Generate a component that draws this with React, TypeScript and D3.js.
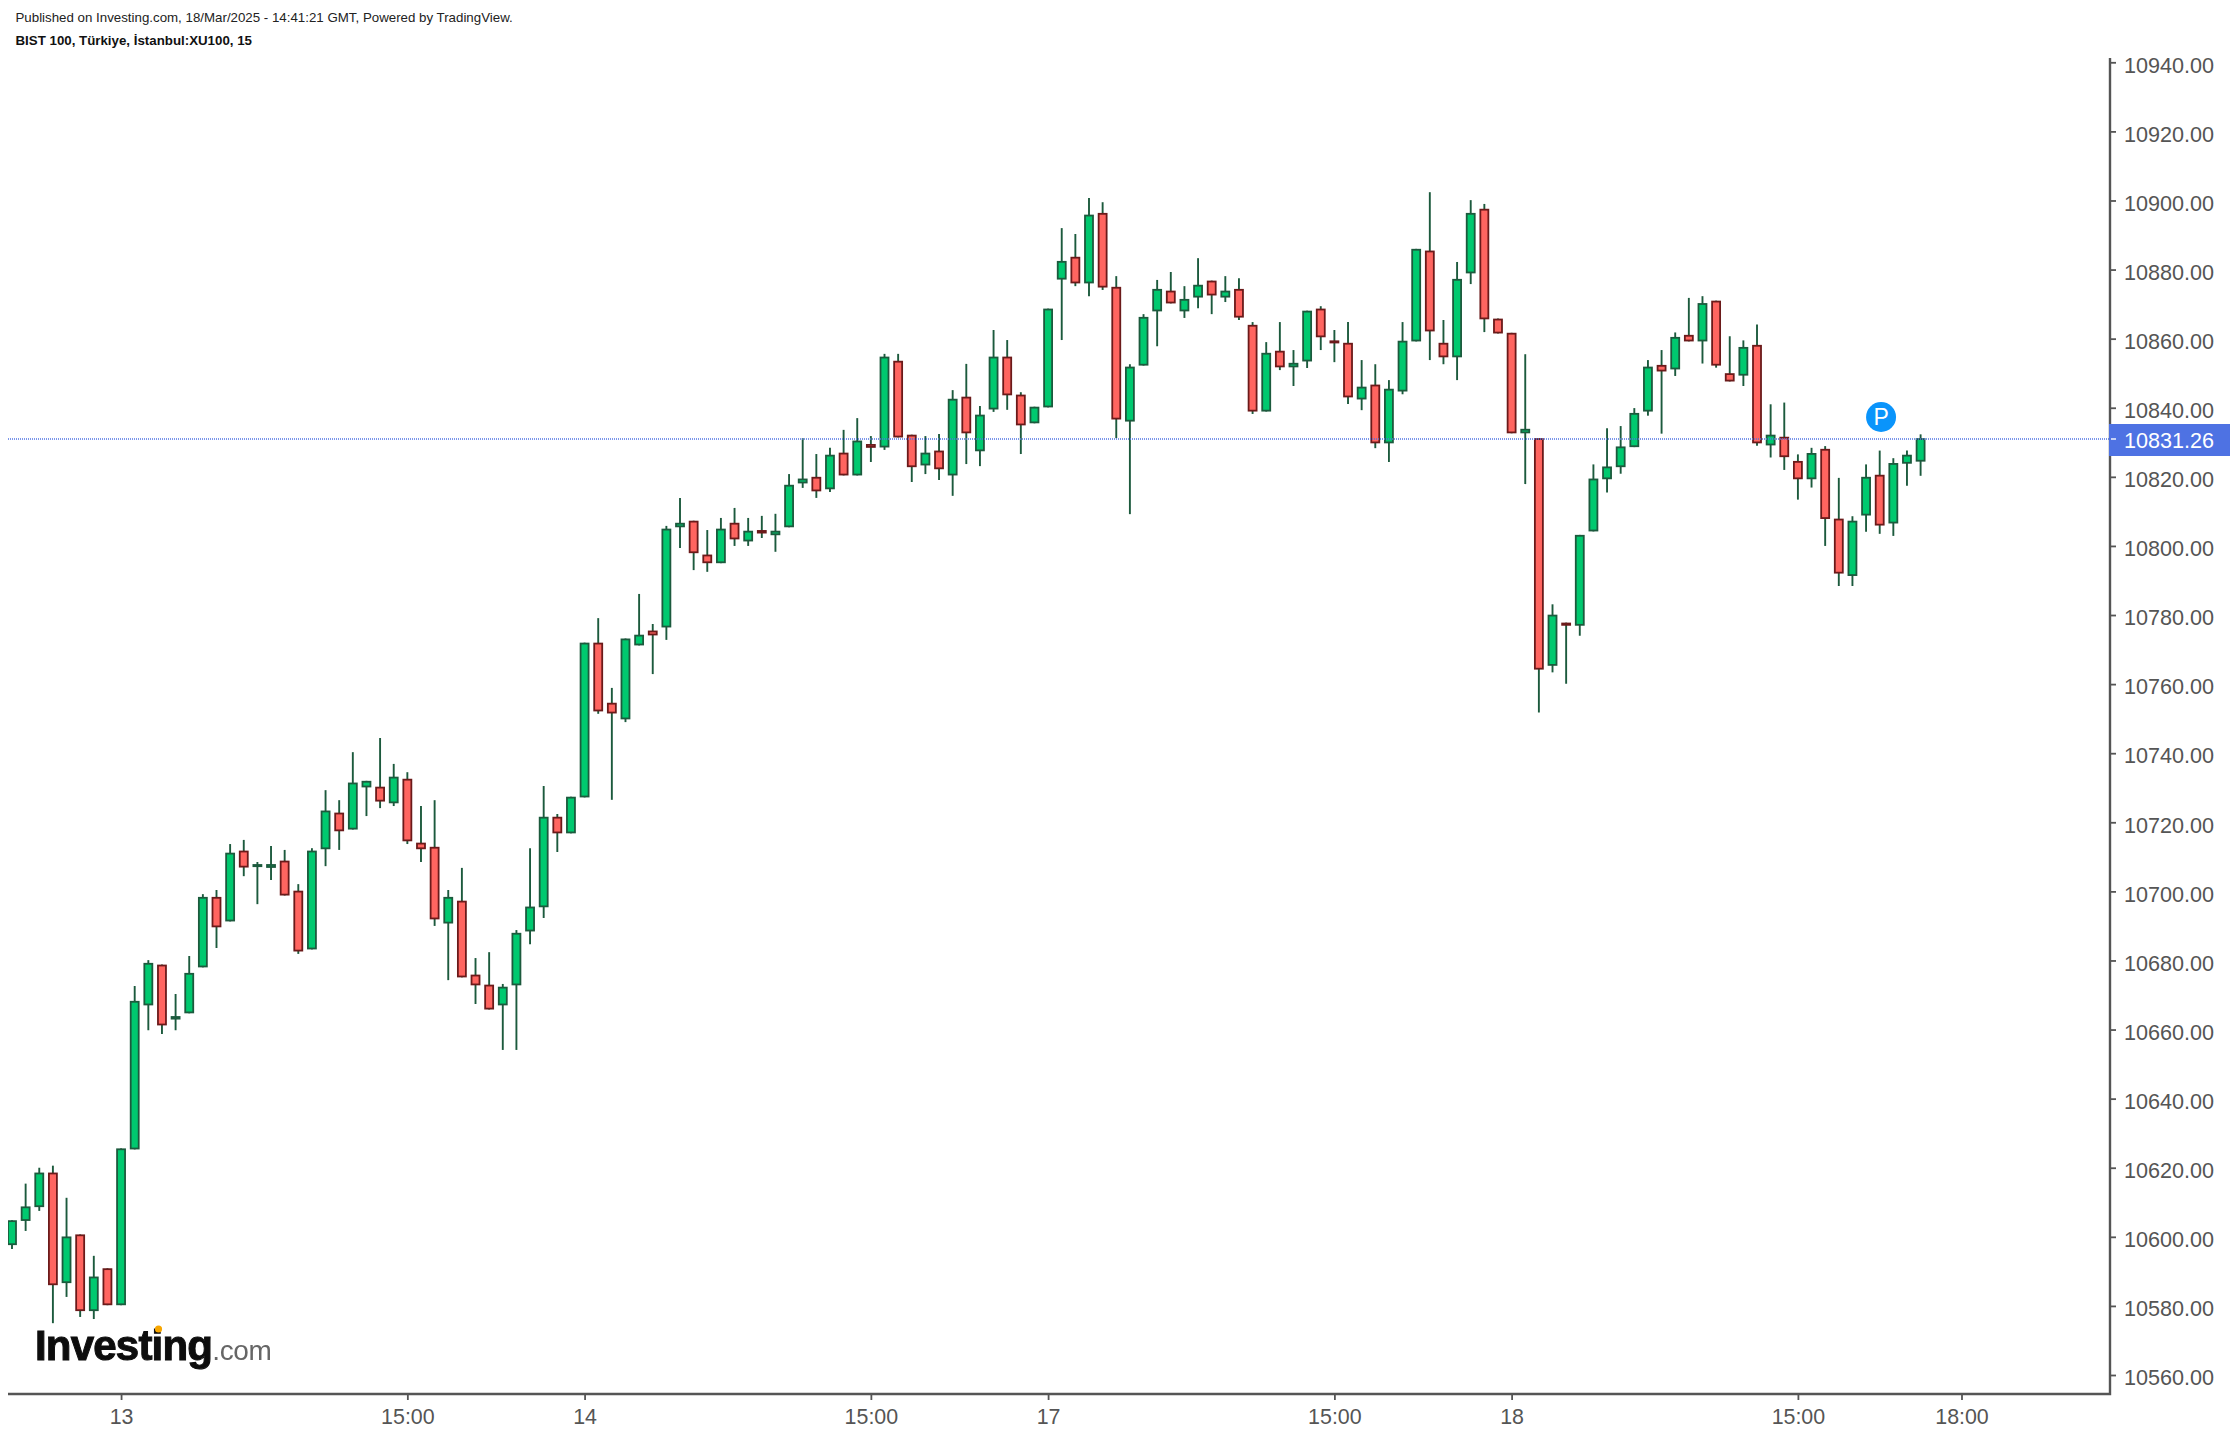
import * as d3 from "d3";
import { useEffect, useRef } from "react";

const opens = [
  10597.6, 10604.6, 10608.6, 10618.6, 10586.6, 10600.7, 10578.5, 10590.9, 10580.2, 10625.3,
  10667, 10678.8, 10662.9, 10664.7, 10678, 10698.4, 10691.3, 10711.8, 10707.5, 10706.8,
  10708.9, 10700.2, 10683.2, 10712.2, 10722.8, 10717.9, 10730.1, 10730.3, 10725.5, 10732.6,
  10714.1, 10712.9, 10690.7, 10697.3, 10675.9, 10673, 10667, 10672.8, 10688.4, 10695.4,
  10721.6, 10716.8, 10727.2, 10772, 10754.6, 10749.8, 10771.2, 10775.5, 10776.4, 10805.4,
  10807.3, 10797.5, 10795, 10806.7, 10801.3, 10804.6, 10803.1, 10805.4, 10818.1, 10820,
  10816.4, 10827, 10820.4, 10829.5, 10828.5, 10853.6, 10832.2, 10823.3, 10827.6, 10820.4,
  10843.2, 10827.4, 10839.5, 10854.8, 10843.8, 10835.5, 10840.1, 10877.1, 10883.7, 10876,
  10896.4, 10875, 10836, 10852.2, 10867.9, 10873.9, 10867.9, 10871.9, 10876.8, 10871.9,
  10874.4, 10864, 10838.9, 10856.5, 10851.7, 10853.4, 10868.7, 10859.5, 10858.8, 10842.4,
  10846.7, 10829.7, 10844.7, 10859.2, 10885.5, 10858.8, 10854.6, 10878.9, 10897.6, 10865.8,
  10861.7, 10832.6, 10831.2, 10765.3, 10777.8, 10776.9, 10804.2, 10819.3, 10822.8, 10828.6,
  10838.9, 10852.4, 10851.1, 10861.1, 10859.2, 10871, 10850, 10849.3, 10858.2, 10829.1,
  10831.6, 10824.6, 10819.3, 10828.1, 10807.9, 10791.3, 10808.8, 10820.6, 10806.5, 10823.8,
  10824.4,
];
const highs = [
  10604.8, 10615.4, 10620, 10620.6, 10611.3, 10600.7, 10594.5, 10590.9, 10625.6, 10672.6,
  10680.1, 10678.8, 10670.3, 10681.3, 10699.2, 10700.4, 10713.7, 10714.9, 10708.5, 10713.1,
  10712, 10702.1, 10712.5, 10729.3, 10726.4, 10740.3, 10732, 10744.4, 10736.9, 10734.5,
  10724.7, 10726.4, 10700.4, 10706.8, 10680.7, 10682.4, 10673.2, 10688.8, 10712.5, 10730.5,
  10722.4, 10727.4, 10772, 10779.1, 10758.9, 10773.2, 10786.1, 10777.4, 10805.8, 10813.9,
  10807.3, 10804.6, 10808.1, 10811, 10808.1, 10808.7, 10809.3, 10820.8, 10831.2, 10826.6,
  10828.4, 10833.6, 10837, 10831.8, 10855.6, 10855.6, 10832.2, 10831.8, 10832.4, 10845.1,
  10852.7, 10840.5, 10862.5, 10859.6, 10844.5, 10840.3, 10868.7, 10892, 10890.3, 10900.7,
  10899.5, 10878.1, 10852.6, 10867.1, 10877, 10879.3, 10875.2, 10883.3, 10876.8, 10878.1,
  10877.5, 10864.8, 10859, 10864.8, 10856.7, 10868.1, 10869.4, 10862.5, 10864.8, 10853.8,
  10852.6, 10848, 10864.8, 10886, 10902.4, 10865.4, 10882.2, 10900.1, 10899, 10865.8,
  10861.7, 10855.5, 10831.2, 10783.1, 10777.8, 10803.2, 10823.6, 10834.1, 10834.7, 10839.9,
  10853.8, 10856.7, 10861.8, 10871.8, 10872.3, 10871, 10860.7, 10859.5, 10864.1, 10841,
  10841.5, 10826.5, 10828.4, 10828.9, 10819.7, 10808.6, 10823.6, 10827.6, 10825.4, 10827.6,
  10832.3,
];
const lows = [
  10596.5, 10601.7, 10607.5, 10575, 10582.6, 10576.8, 10576.2, 10580.2, 10580.2, 10625.3,
  10659.8, 10658.7, 10659.8, 10664.7, 10678, 10683.6, 10691.3, 10704.4, 10696.3, 10703.3,
  10698.8, 10681.9, 10683.2, 10707.3, 10712, 10717.9, 10721.8, 10724.1, 10724.7, 10713.7,
  10708.5, 10690, 10674.3, 10675.1, 10667.4, 10665.8, 10654.1, 10654.1, 10684.7, 10692.3,
  10711.4, 10716.8, 10727.2, 10751.4, 10726.5, 10749, 10771.2, 10762.9, 10772.8, 10799.4,
  10793, 10792.5, 10795, 10800, 10800, 10802.3, 10798.3, 10805.4, 10816.8, 10813.9,
  10815.6, 10820.4, 10820.4, 10824.3, 10827.8, 10831.4, 10818.5, 10820.8, 10819.1, 10814.5,
  10823.7, 10823.1, 10838.8, 10839.4, 10826.6, 10835.5, 10840.1, 10859.6, 10875.2, 10872.3,
  10874.1, 10831.2, 10809.2, 10852.2, 10857.8, 10870.2, 10866, 10868.8, 10867.1, 10870.6,
  10865.4, 10838.2, 10838.9, 10850.9, 10846.3, 10851.5, 10856.7, 10853.2, 10841.1, 10839.3,
  10828.3, 10824.3, 10843.9, 10859.2, 10853.8, 10852.6, 10848, 10875.8, 10861.9, 10861.5,
  10832.6, 10817.9, 10751.8, 10763.4, 10760.1, 10774, 10804.2, 10815.5, 10820.9, 10828.6,
  10837.7, 10832.5, 10849.2, 10859.2, 10852.8, 10851.6, 10847.6, 10846.3, 10829, 10825.6,
  10822, 10813.4, 10816.9, 10800, 10788.4, 10788.4, 10804.1, 10803.5, 10802.9, 10817.4,
  10820.3,
];
const closes = [
  10604.8, 10608.8, 10618.6, 10586, 10600.1, 10578.5, 10588.5, 10580.2, 10625.6, 10668.3,
  10679.3, 10661.2, 10663.9, 10676.4, 10698.4, 10689.6, 10711.2, 10706.9, 10707.9, 10707.9,
  10698.8, 10682.6, 10711.8, 10723.4, 10717.4, 10731.5, 10732, 10726, 10733.2, 10714.5,
  10712.2, 10691.9, 10698.4, 10675.1, 10672.8, 10665.8, 10672.4, 10688, 10695.6, 10721.6,
  10716.8, 10727.4, 10772, 10752.1, 10751.5, 10773.2, 10774.3, 10774.1, 10805, 10806.7,
  10797.9, 10795, 10805, 10801.9, 10804.4, 10803.6, 10804.4, 10817.7, 10819.5, 10815.8,
  10826.4, 10820.4, 10830.5, 10828.4, 10854.8, 10831.4, 10822.8, 10827, 10822.2, 10842.6,
  10832.6, 10838, 10854.8, 10843.6, 10834.9, 10840.3, 10868.7, 10882.5, 10876, 10895.9,
  10874.8, 10836.6, 10851.9, 10866.3, 10874.4, 10870.2, 10871.5, 10875.6, 10872.5, 10873.9,
  10866.1, 10838.9, 10855.9, 10851.7, 10853, 10868.1, 10860.4, 10859.1, 10843, 10846.1,
  10829.7, 10845.5, 10859.4, 10886, 10862.1, 10854.6, 10877.3, 10896.4, 10865.6, 10861.5,
  10832.6, 10833.9, 10764.2, 10780.1, 10776.9, 10803.2, 10819.5, 10823, 10828.8, 10838.5,
  10851.9, 10850.5, 10860.5, 10859.2, 10870.3, 10852.2, 10847.6, 10857.6, 10829.7, 10832.2,
  10825.7, 10819.3, 10826.9, 10807.8, 10792, 10807.3, 10820, 10805.9, 10824, 10826.4,
  10831.2,
];

const xTickIndexes = [8, 29, 42, 63, 76, 97, 110, 131, 143];
const xTickLabels = ["13", "15:00", "14", "15:00", "17", "15:00", "18", "15:00", "18:00"];
const yTicks = [
  10560, 10580, 10600, 10620, 10640, 10660, 10680, 10700, 10720, 10740, 10760, 10780, 10800,
  10820, 10840, 10860, 10880, 10900, 10920, 10940,
];
const lastPrice = 10831.26;

const FONT = "'Liberation Sans', Arial, sans-serif";
const AXIS_COLOR = "#555555";

export default function App(): JSX.Element {
  const svgRef = useRef<SVGSVGElement>(null);

  useEffect(() => {
    if (!svgRef.current) return;

    const width = 2230;
    const height = 1436;
    const plot = { left: 8, right: 2110, top: 58, bottom: 1394 };

    const svg = d3.select(svgRef.current);
    svg.selectAll("*").remove();
    svg.attr("width", width).attr("height", height);

    const xScale = d3.scaleLinear().domain([0, 140]).range([12, 1920.6]);
    const yScale = d3.scaleLinear().domain([10560, 10940]).range([1375, 62.3]);

    const defs = svg.append("defs");
    defs
      .append("clipPath")
      .attr("id", "plot-clip")
      .append("rect")
      .attr("x", plot.left)
      .attr("y", plot.top)
      .attr("width", plot.right - plot.left)
      .attr("height", plot.bottom - plot.top);
    defs
      .append("clipPath")
      .attr("id", "axis-clip")
      .append("rect")
      .attr("x", plot.right - 2)
      .attr("y", plot.top)
      .attr("width", width - plot.right + 2)
      .attr("height", plot.bottom - plot.top);
    defs
      .append("filter")
      .attr("id", "logo-blur")
      .append("feGaussianBlur")
      .attr("stdDeviation", 0.5);

    const candles = svg.append("g").attr("clip-path", "url(#plot-clip)");
    const border = 1.8;
    const bodyWidth = 9.8;

    opens.forEach((open, i) => {
      const close = closes[i];
      const up = close >= open;
      const x = xScale(i);
      const top = yScale(Math.max(open, close));
      const bottom = yScale(Math.min(open, close));

      candles
        .append("line")
        .attr("x1", x)
        .attr("x2", x)
        .attr("y1", yScale(highs[i]))
        .attr("y2", yScale(lows[i]))
        .attr("stroke", "#1c5a3d")
        .attr("stroke-width", 1.9);

      candles
        .append("rect")
        .attr("x", x - bodyWidth / 2)
        .attr("y", top)
        .attr("width", bodyWidth)
        .attr("height", Math.max(bottom - top, 3))
        .attr("fill", up ? "#1c5a3d" : "#6b1a1a");

      if (bottom - top > border * 2) {
        candles
          .append("rect")
          .attr("x", x - bodyWidth / 2 + border)
          .attr("y", top + border)
          .attr("width", bodyWidth - border * 2)
          .attr("height", bottom - top - border * 2)
          .attr("fill", up ? "#00c96f" : "#ff6560");
      }
    });

    // last price line, snapped to whole pixels so the dots stay crisp
    const lastY = Math.round(yScale(lastPrice) + 1);
    svg
      .append("line")
      .attr("x1", plot.left)
      .attr("x2", plot.right)
      .attr("y1", lastY)
      .attr("y2", lastY)
      .attr("stroke", "#4f73e3")
      .attr("stroke-width", 2)
      .attr("stroke-dasharray", "1,1")
      .attr("stroke-opacity", 0.75)
      .attr("shape-rendering", "crispEdges");

    const yAxis = svg
      .append("g")
      .attr("clip-path", "url(#axis-clip)")
      .append("g")
      .attr("transform", `translate(${plot.right},0)`)
      .call(
        d3
          .axisRight(yScale)
          .tickValues(yTicks)
          .tickFormat(d3.format(".2f") as any)
          .tickSize(6)
          .tickPadding(8),
      );
    yAxis.select(".domain").remove();
    yAxis.selectAll("line").attr("stroke", AXIS_COLOR).attr("stroke-width", 1.8);
    yAxis
      .selectAll("text")
      .attr("dy", "0.45em")
      .style("font-family", FONT)
      .style("font-size", "21.6px")
      .style("fill", AXIS_COLOR);

    const xAxis = svg
      .append("g")
      .attr("transform", `translate(0,${plot.bottom})`)
      .call(
        d3
          .axisBottom(xScale)
          .tickValues(xTickIndexes)
          .tickFormat((_, i) => xTickLabels[i])
          .tickSize(6)
          .tickPadding(8.5),
      );
    xAxis.select(".domain").remove();
    xAxis.selectAll("line").attr("stroke", AXIS_COLOR).attr("stroke-width", 1.8);
    xAxis
      .selectAll("text")
      .style("font-family", FONT)
      .style("font-size", "21.4px")
      .style("fill", AXIS_COLOR);

    svg
      .append("path")
      .attr("d", `M${plot.left},${plot.bottom}H${plot.right}V${plot.top}`)
      .attr("fill", "none")
      .attr("stroke", AXIS_COLOR)
      .attr("stroke-width", 2.4);

    // price badge
    const badgeY = lastY + 1;
    svg
      .append("rect")
      .attr("x", plot.right - 1)
      .attr("y", badgeY - 16)
      .attr("width", width - plot.right + 1)
      .attr("height", 32)
      .attr("fill", "#4e72e3");
    svg
      .append("line")
      .attr("x1", plot.right + 1)
      .attr("x2", plot.right + 6)
      .attr("y1", lastY)
      .attr("y2", lastY)
      .attr("stroke", "#d5ddf8")
      .attr("stroke-width", 1.8);
    svg
      .append("text")
      .attr("x", plot.right + 14)
      .attr("y", badgeY)
      .attr("dy", "0.36em")
      .attr("fill", "#ffffff")
      .style("font-family", FONT)
      .style("font-size", "21.6px")
      .text(d3.format(".2f")(lastPrice));

    // P marker above the last candles
    svg
      .append("circle")
      .attr("cx", xScale(137.1))
      .attr("cy", lastY - 22)
      .attr("r", 15)
      .attr("fill", "#0a94fb");
    svg
      .append("text")
      .attr("x", xScale(137.1))
      .attr("y", lastY - 22)
      .attr("dy", "0.36em")
      .attr("text-anchor", "middle")
      .attr("fill", "#ffffff")
      .style("font-family", FONT)
      .style("font-size", "23px")
      .text("P");

    // header
    svg
      .append("text")
      .attr("x", 15.5)
      .attr("y", 22)
      .attr("fill", "#222222")
      .style("font-family", FONT)
      .style("font-size", "13.3px")
      .text("Published on Investing.com, 18/Mar/2025 - 14:41:21 GMT, Powered by TradingView.");
    svg
      .append("text")
      .attr("x", 15.5)
      .attr("y", 45)
      .attr("fill", "#111111")
      .style("font-family", FONT)
      .style("font-size", "13.3px")
      .style("font-weight", "700")
      .text("BIST 100, Türkiye, İstanbul:XU100, 15");

    // logo
    const logoGroup = svg.append("g").attr("filter", "url(#logo-blur)");
    const logo = logoGroup
      .append("text")
      .attr("x", 35)
      .attr("y", 1360)
      .style("font-family", FONT);
    logo
      .append("tspan")
      .attr("fill", "#0a0a0a")
      .attr("stroke", "#0a0a0a")
      .attr("stroke-width", 1)
      .style("font-size", "42px")
      .style("font-weight", "700")
      .style("letter-spacing", "-0.8px")
      .text("Investing");
    logo
      .append("tspan")
      .attr("fill", "#666666")
      .style("font-size", "28px")
      .style("letter-spacing", "-0.3px")
      .text(".com");
    logoGroup
      .append("circle")
      .attr("cx", 158.5)
      .attr("cy", 1329)
      .attr("r", 3.6)
      .attr("fill", "#f7a600");
  }, []);

  return (
    <svg
      ref={svgRef}
      style={{ position: "absolute", left: 0, top: 0, display: "block", background: "#ffffff" }}
    />
  );
}
